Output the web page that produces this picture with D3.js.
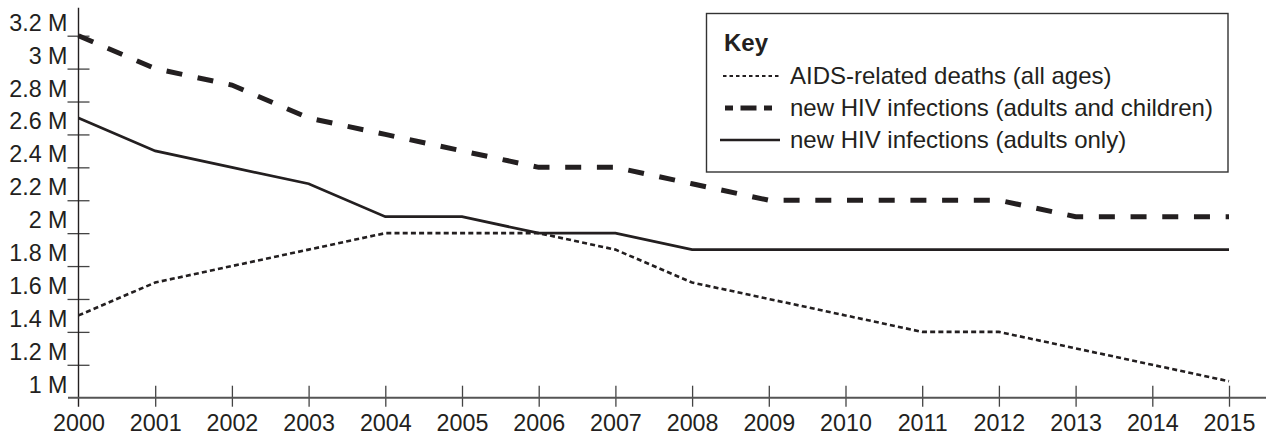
<!DOCTYPE html>
<html>
<head>
<meta charset="utf-8">
<script src="https://cdn.jsdelivr.net/npm/d3@7"></script>
<style>
  html, body { margin: 0; padding: 0; background: #fff; }
  svg { display: block; }
  text { font-family: "Liberation Sans", Arial, Helvetica, sans-serif; fill: #231f20; }
</style>
</head>
<body>
<svg id="chart" width="1266" height="439"></svg>
<script>
const years = [2000, 2001, 2002, 2003, 2004, 2005, 2006, 2007, 2008, 2009, 2010, 2011, 2012, 2013, 2014, 2015];
const aidsDeaths = [1.5, 1.7, 1.8, 1.9, 2.0, 2.0, 2.0, 1.9, 1.7, 1.6, 1.5, 1.4, 1.4, 1.3, 1.2, 1.1];
const newAllAges = [3.2, 3.0, 2.9, 2.7, 2.6, 2.5, 2.4, 2.4, 2.3, 2.2, 2.2, 2.2, 2.2, 2.1, 2.1, 2.1];
const newAdults  = [2.7, 2.5, 2.4, 2.3, 2.1, 2.1, 2.0, 2.0, 1.9, 1.9, 1.9, 1.9, 1.9, 1.9, 1.9, 1.9];
const yTickValues = [1.0, 1.2, 1.4, 1.6, 1.8, 2.0, 2.2, 2.4, 2.6, 2.8, 3.0, 3.2];
const legendLabels = ["AIDS-related deaths (all ages)", "new HIV infections (adults and children)", "new HIV infections (adults only)"];
const legendTitle = "Key";

const ink = "#231f20";
const svg = d3.select("#chart");

const x = d3.scaleLinear().domain([2000, 2015]).range([78.5, 1229]);
const y = d3.scaleLinear().domain([1, 3.2]).range([397.7, 35.7]);

// Y axis
const yAxis = d3.axisLeft(y)
  .tickValues(yTickValues.filter(v => v > 1.0))
  .tickSize(0)
  .tickFormat(() => "");
const gy = svg.append("g").attr("transform", `translate(${x(2000)},0)`).call(yAxis);
gy.select(".domain").remove();
gy.selectAll(".tick line")
  .attr("x1", -11).attr("x2", 11)
  .attr("stroke", "#444").attr("stroke-width", 1.3);
gy.append("line")
  .attr("x1", 0).attr("x2", 0)
  .attr("y1", y(3.37)).attr("y2", y(1) + 9)
  .attr("stroke", ink).attr("stroke-width", 1.4);

// Y labels (placed just above their ticks)
svg.append("g").selectAll("text")
  .data(yTickValues)
  .join("text")
  .attr("x", x(2000) - 11)
  .attr("y", d => y(d) - 5)
  .attr("text-anchor", "end")
  .attr("font-size", 23.3)
  .text(d => d3.format("~g")(d) + " M");

// X axis
const xAxis = d3.axisBottom(x)
  .tickValues(years)
  .tickSize(0)
  .tickFormat(d3.format("d"));
const gx = svg.append("g").attr("transform", `translate(0,${y(1)})`).call(xAxis);
gx.select(".domain").remove();
gx.append("line")
  .attr("x1", x(2000) - 10.5).attr("x2", 1266)
  .attr("y1", 0).attr("y2", 0)
  .attr("stroke", "#555").attr("stroke-width", 2);
gx.selectAll(".tick line")
  .attr("y1", d => d === 2000 ? 0 : -12).attr("y2", d => d === 2000 ? 0 : 9)
  .attr("stroke", "#444").attr("stroke-width", 1.3);
gx.selectAll(".tick text")
  .attr("y", 33).attr("dy", 0)
  .attr("font-size", 23.3)
  .attr("font-family", '"Liberation Sans", Arial, Helvetica, sans-serif')
  .attr("fill", ink);

// Lines
const line = d3.line().x((d, i) => x(years[i])).y(d => y(d));

svg.append("path").datum(newAdults)
  .attr("d", line).attr("fill", "none")
  .attr("stroke", ink).attr("stroke-width", 2.7).attr("stroke-linejoin", "miter");

svg.append("path").datum(aidsDeaths)
  .attr("d", line).attr("fill", "none")
  .attr("stroke", ink).attr("stroke-width", 2.6)
  .attr("stroke-dasharray", "5,3.2");

svg.append("path").datum(newAllAges)
  .attr("d", line).attr("fill", "none")
  .attr("stroke", ink).attr("stroke-width", 5)
  .attr("stroke-dasharray", "16,15.7");

// Legend
const lg = svg.append("g");
lg.append("rect")
  .attr("x", 706.5).attr("y", 13.5).attr("width", 521.5).attr("height", 158.5)
  .attr("fill", "#fff").attr("stroke", "#333").attr("stroke-width", 1.4);
lg.append("text")
  .attr("x", 724).attr("y", 51)
  .attr("font-size", 24).attr("font-weight", "bold")
  .text(legendTitle);

const rowBase = [84, 116, 148];
const sampleStyles = [
  { x1: 723, w: 2.2, dash: "3.5,3" },
  { x1: 725, w: 5, dash: "8,7.5,16,7.5,8" },
  { x1: 720, w: 2.4, dash: null }
];
legendLabels.forEach((lab, i) => {
  const s = sampleStyles[i];
  const ly = rowBase[i] - 8;
  const l = lg.append("line")
    .attr("x1", s.x1).attr("x2", 780)
    .attr("y1", ly).attr("y2", ly)
    .attr("stroke", ink).attr("stroke-width", s.w);
  if (s.dash) l.attr("stroke-dasharray", s.dash);
  lg.append("text")
    .attr("x", 790).attr("y", rowBase[i])
    .attr("font-size", 24)
    .text(lab);
});
</script>
</body>
</html>
